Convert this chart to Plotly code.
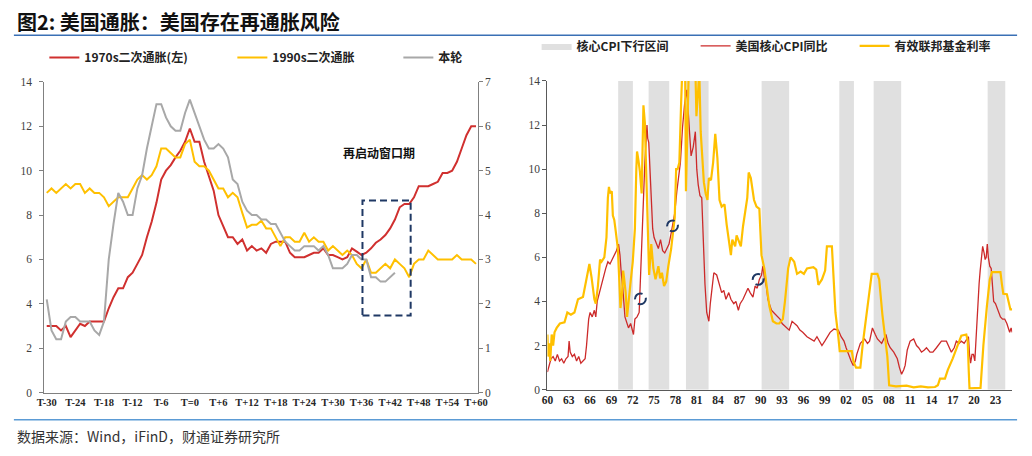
import plotly.graph_objects as go

W, H = 1032, 456
def px(x):
    return x / W
def py(y):
    return 1 - y / H

# ---------------- Left panel data (months relative to T) ----------------
months = list(range(-30, 61))
infl_1970s = [3.0, 3.0, 3.0, 2.8, 3.0, 2.5, 2.8, 3.1, 3.0, 3.2,
              3.2, 3.2, 3.2, 3.8, 4.3, 4.7, 4.7, 5.2, 5.4, 5.8,
              6.2, 7.0, 7.7, 8.55, 9.6, 10.0, 10.25, 10.6, 10.9, 11.3,
              11.9,
              11.3, 11.3, 10.4, 9.7, 9.1, 8.0, 7.5, 7.0, 7.0, 6.7,
              6.9, 6.4, 6.6, 6.4, 6.5, 6.3, 6.7, 6.8, 6.8, 6.8,
              6.3, 6.1, 6.1, 6.1, 6.2, 6.3, 6.3, 6.5, 6.2, 6.2,
              6.1, 6.0, 6.1, 6.5, 6.35, 6.2, 6.3, 6.5, 6.75, 6.9,
              7.1, 7.4, 7.8, 8.35, 8.5, 8.5, 8.8, 9.3, 9.3, 9.3,
              9.4, 9.5, 9.9, 9.9, 10.0, 10.4, 11.0, 11.6, 12.0, 12.0]
infl_1990s = [4.5, 4.6, 4.5, 4.6, 4.7, 4.6, 4.7, 4.7, 4.5, 4.6,
              4.5, 4.5, 4.4, 4.2, 4.3, 4.4, 4.4, 4.4, 4.6, 4.8,
              4.9, 4.8, 4.9, 5.1, 5.5, 5.5, 5.4, 5.3, 5.3, 5.6,
              5.7,
              5.2, 5.1, 5.1, 5.0, 4.8, 4.6, 4.6, 4.4, 4.5, 4.4,
              4.05, 3.72, 3.78, 3.78, 3.87, 3.7, 3.7, 3.5, 3.3, 3.5,
              3.5, 3.4, 3.4, 3.6, 3.4, 3.5, 3.4, 3.4, 3.2, 3.3,
              3.2, 3.1, 3.2, 3.1, 2.9, 2.8, 3.0, 2.7, 2.7, 2.8,
              2.9, 2.8, 3.0, 2.9, 2.8, 2.6, 2.9, 3.0, 3.0, 3.2,
              3.1, 3.0, 3.0, 3.0, 3.0, 3.1, 3.0, 3.0, 3.0, 2.9]
months_now = list(range(-30, 44))
infl_now = [2.1, 1.4, 1.2, 1.2, 1.6, 1.7, 1.7, 1.6, 1.6, 1.6,
            1.4, 1.3, 1.6, 3.0, 3.8, 4.5, 4.3, 4.0, 4.0, 4.6,
            4.9, 5.5, 6.0, 6.5, 6.5, 6.2, 6.0, 5.9, 5.9, 6.3,
            6.6,
            6.3, 6.0, 5.7, 5.5, 5.5, 5.6, 5.5, 5.3, 4.8, 4.7,
            4.3, 4.1, 4.0, 4.0, 3.9, 3.9, 3.8, 3.8, 3.6, 3.4,
            3.3, 3.2, 3.2, 3.3, 3.3, 3.3, 3.2, 3.3, 3.1, 2.8,
            2.8, 2.8, 2.9, 3.1, 3.1, 3.0, 3.0, 2.6, 2.6, 2.5,
            2.5, 2.6, 2.7]
month_tickvals = list(range(-30, 61, 6))
month_ticktext = ["T-30", "T-24", "T-18", "T-12", "T-6", "T=0", "T+6", "T+12",
                  "T+18", "T+24", "T+30", "T+36", "T+42", "T+48", "T+54", "T+60"]

# ---------------- Right panel data (year on chart axis) ----------------
cpi_year = [1960.0, 1960.2, 1960.5, 1960.8, 1961.1, 1961.4, 1961.7, 1962.0, 1962.3, 1962.6,
            1962.9, 1963.05, 1963.2, 1963.5, 1963.8, 1964.1, 1964.4, 1964.7, 1965.0, 1965.3,
            1965.5, 1965.8, 1966.0, 1966.3, 1966.6, 1966.8, 1967.0, 1967.3, 1967.6, 1967.9,
            1968.2, 1968.5, 1968.8, 1969.1, 1969.4, 1969.7, 1970.0, 1970.2, 1970.4, 1970.6,
            1970.9, 1971.1, 1971.4, 1971.7, 1971.9, 1972.1, 1972.3, 1972.6, 1972.9, 1973.05,
            1973.25, 1973.5, 1973.7, 1974.0, 1974.1, 1974.25, 1974.4, 1974.6, 1974.8, 1975.0,
            1975.3, 1975.6, 1975.9, 1976.2, 1976.5, 1976.8, 1977.1, 1977.4, 1977.7, 1977.9,
            1978.2, 1978.5, 1978.7, 1979.0, 1979.3, 1979.6, 1979.8, 1980.0, 1980.2, 1980.5,
            1980.8, 1981.0, 1981.2, 1981.45, 1981.7, 1981.85, 1982.0, 1982.15, 1982.4, 1982.7,
            1982.9, 1983.2, 1983.4, 1983.8, 1984.1, 1984.5, 1984.8, 1985.1, 1985.5, 1985.8,
            1986.2, 1986.5, 1986.85, 1987.1, 1987.5, 1987.8, 1988.2, 1988.5, 1988.9, 1989.2,
            1989.5, 1989.8, 1990.1, 1990.3, 1990.5, 1990.77, 1991.0, 1991.2, 1991.5, 1991.8,
            1992.1, 1992.4, 1992.7, 1993.0, 1993.3, 1993.6, 1994.0, 1994.4, 1994.7, 1995.1,
            1995.5, 1995.9, 1996.5, 1997.0, 1997.5, 1997.9, 1998.3, 1998.6, 1999.0, 1999.4,
            1999.75, 2000.3, 2000.9, 2001.3, 2001.7, 2002.0, 2002.4, 2002.7, 2003.0, 2003.3,
            2003.5, 2004.0, 2004.6, 2005.0, 2005.3, 2005.7, 2006.1, 2006.4, 2007.0, 2007.3,
            2007.6, 2007.9, 2008.2, 2008.7, 2009.2, 2009.5, 2009.8, 2010.1, 2010.3, 2010.6,
            2011.0, 2011.5, 2011.9, 2012.2, 2012.6, 2013.0, 2013.3, 2013.8, 2014.2, 2014.7,
            2015.1, 2015.4, 2016.1, 2016.5, 2016.8, 2017.2, 2017.5, 2017.9, 2018.2, 2018.6,
            2019.0, 2019.2, 2019.35, 2019.5, 2019.7, 2019.9, 2020.1, 2020.3, 2020.45, 2020.55,
            2020.7, 2020.85, 2021.0, 2021.2, 2021.4, 2021.55, 2021.7, 2021.85, 2022.0, 2022.2,
            2022.4, 2022.6, 2022.75, 2023.0, 2023.3, 2023.7, 2024.0, 2024.3, 2024.6, 2024.8,
            2025.0, 2025.2, 2025.35]
cpi_val = [0.8, 1.0, 1.4, 1.5, 1.3, 1.6, 1.3, 1.4, 1.2, 1.4,
           1.5, 2.2, 1.7, 1.5, 1.6, 1.3, 1.5, 1.2, 1.3, 1.4,
           2.0, 3.2, 3.5, 3.3, 3.6, 3.3, 4.0, 4.4, 4.7, 5.1,
           5.5, 5.8, 5.7, 5.9, 6.1, 6.3, 6.6, 6.1, 5.2, 4.6,
           3.3, 3.1, 2.8, 3.0, 2.8, 2.5, 3.2, 3.3, 3.5, 4.9,
           6.9, 8.9, 10.3, 12.0, 11.4, 11.2, 9.9, 8.3, 7.3, 6.9,
           6.6, 6.4, 6.8, 6.3, 6.2, 6.4, 6.6, 7.1, 7.6, 8.0,
           9.0, 9.8, 10.3, 11.9, 13.0, 13.6, 12.3, 11.6, 10.6, 11.0,
           11.7, 10.0, 9.3, 8.8, 8.7, 7.3, 6.0, 4.8, 3.5, 3.1,
           3.9, 4.9, 5.3, 5.2, 4.8, 4.4, 4.5, 4.1, 4.4, 4.1,
           3.9, 4.0, 3.6, 3.9, 4.1, 4.3, 4.6, 4.4, 4.2, 4.7,
           4.6, 5.0, 5.2, 5.6, 5.1, 4.7, 4.1, 3.9, 3.6, 3.5,
           3.4, 3.3, 3.2, 3.0, 2.9, 2.8, 2.7, 3.1, 3.0, 2.9,
           2.7, 2.6, 2.4, 2.3, 2.2, 2.4, 2.2, 2.0, 2.2, 2.4,
           2.6, 2.75, 2.7, 2.4, 2.2, 1.9, 1.5, 1.3, 1.1, 1.3,
           1.6, 2.1, 2.3, 2.1, 2.2, 2.8, 2.5, 2.3, 2.1, 2.3,
           2.5, 2.1, 1.9, 1.7, 1.4, 1.0, 0.7, 0.9, 1.1, 1.8,
           2.2, 2.3, 2.0, 1.9, 1.7, 1.8, 1.9, 1.7, 1.7, 1.9,
           2.1, 2.2, 2.2, 1.9, 1.7, 1.9, 2.2, 2.1, 2.2, 2.1,
           2.3, 2.4, 1.6, 1.2, 1.6, 1.6, 1.3, 2.5, 3.8, 4.4,
           4.8, 5.4, 6.0, 6.5, 6.2, 5.9, 6.0, 6.6, 6.0, 5.6,
           5.5, 4.8, 4.0, 3.9, 3.6, 3.3, 3.2, 3.2, 3.0, 2.8,
           2.6, 2.8, 2.6]

ffr_year = [1960.0, 1960.1, 1960.25, 1960.4, 1960.6, 1960.8, 1961.0, 1961.3, 1961.75, 1962.4,
            1962.8, 1963.3, 1963.8, 1964.3, 1965.0, 1965.4, 1965.9, 1966.2, 1966.6, 1966.8,
            1967.1, 1967.4, 1967.6, 1968.0, 1968.3, 1968.5, 1968.65, 1968.8, 1969.05, 1969.2,
            1969.4, 1969.6, 1969.9, 1970.1, 1970.27, 1970.5, 1970.65, 1970.8, 1971.0, 1971.2,
            1971.35, 1971.7, 1972.0, 1972.3, 1972.5, 1972.6, 1972.8, 1973.0, 1973.25, 1973.5,
            1973.7, 1973.85, 1974.0, 1974.15, 1974.3, 1974.6, 1974.9, 1975.2, 1975.6, 1975.85,
            1976.1, 1976.4, 1976.7, 1977.0, 1977.4, 1977.9, 1978.1, 1978.3, 1978.55, 1978.8,
            1979.0, 1979.3, 1979.48, 1979.6, 1979.9, 1980.2, 1980.5, 1980.8, 1980.95, 1981.2,
            1981.35, 1981.55, 1981.75, 1982.0, 1982.25, 1982.5, 1982.7, 1983.0, 1983.3, 1983.6,
            1983.9, 1984.2, 1984.5, 1984.9, 1985.2, 1985.5, 1985.8, 1986.0, 1986.4, 1986.6,
            1986.85, 1987.2, 1987.5, 1987.85, 1988.1, 1988.3, 1988.6, 1989.05, 1989.4, 1989.8,
            1990.1, 1990.5, 1990.9, 1991.2, 1991.7, 1992.2, 1992.6, 1993.1, 1993.4, 1993.85,
            1994.2, 1994.7, 1995.1, 1995.6, 1996.06, 1996.5, 1997.4, 1997.8, 1998.1, 1998.6,
            1999.05, 1999.3, 2000.0, 2000.2, 2000.5, 2000.9, 2001.1, 2002.8, 2003.05, 2003.4,
            2004.0, 2004.35, 2004.8, 2005.3, 2005.6, 2006.4, 2006.65, 2007.1, 2007.5, 2007.8,
            2008.05, 2009.0, 2010.5, 2011.5, 2012.5, 2013.5, 2014.5, 2014.9, 2015.1, 2015.2,
            2015.9, 2016.3, 2017.0, 2017.7, 2018.2, 2018.9, 2019.1, 2019.25, 2019.35, 2020.9,
            2021.3, 2021.8, 2022.2, 2022.5, 2023.7, 2023.9, 2024.1, 2024.6, 2024.8, 2025.1,
            2025.35]
ffr_val = [2.5, 1.5, 2.1, 1.3, 2.5, 2.0, 2.6, 2.8, 3.0, 3.05,
           3.5, 3.4, 3.5, 4.1, 4.2, 4.8, 5.7, 5.1, 4.1, 3.9,
           4.7, 5.9, 5.8, 6.0, 6.9, 8.7, 9.2, 8.9, 9.0, 7.9,
           7.7, 7.2, 6.4, 5.0, 3.7, 4.4, 5.4, 5.0, 4.4, 3.3,
           3.9, 4.9, 5.8, 7.3, 10.0, 10.8, 10.4, 9.9, 8.9, 12.9,
           12.1, 10.5, 8.5, 6.6, 5.2, 6.6, 5.5, 5.0, 5.6, 5.05,
           5.3, 4.7, 4.9, 5.6, 6.4, 7.8, 10.0, 10.0, 10.3, 13.0,
           14.5, 17.6, 9.0, 11.0, 18.9, 19.1, 19.1, 15.0, 12.4, 13.6,
           14.5, 11.7, 10.4, 9.4, 8.9, 8.6, 9.6, 9.5, 10.3, 11.6,
           10.5, 8.6, 8.3, 8.4, 7.5, 6.8, 6.1, 6.8, 6.5, 7.0,
           6.8, 6.5, 7.4, 8.1, 8.7, 9.85, 9.6, 8.6, 8.3, 8.2,
           6.1, 5.5, 4.6, 3.8, 3.1, 3.0, 3.0, 3.2, 4.0, 5.5,
           6.0, 5.8, 5.25, 5.35, 5.25, 5.5, 5.55, 5.45, 4.75, 5.0,
           5.4, 6.5, 6.5, 5.3, 3.5, 2.4, 1.75, 1.75, 1.25, 1.0,
           1.0, 2.1, 3.3, 4.4, 5.25, 5.25, 5.0, 3.4, 2.4, 1.5,
           0.2, 0.15, 0.18, 0.1, 0.15, 0.1, 0.12, 0.2, 0.4, 0.5,
           0.5, 0.9, 1.42, 2.0, 2.45, 2.5, 2.2, 0.8, 0.06, 0.08,
           2.0, 3.8, 5.0, 5.33, 5.33, 4.8, 4.35, 4.33, 4.0, 3.64,
           3.64]

shade_start = [1969.95, 1974.23, 1979.48, 1990.12, 2001.04, 2005.87, 2021.9]
shade_end = [1972.02, 1977.13, 1982.66, 1993.99, 2003.1, 2009.74, 2024.38]
year_tickvals = list(range(1960, 2024, 3))
year_ticktext = ["60", "63", "66", "69", "72", "75", "78", "81", "84", "87", "90",
                 "93", "96", "99", "02", "05", "08", "11", "14", "17", "20", "23"]
marker_points = [(1973.08, 4.12), (1977.59, 7.43), (1989.63, 5.0)]

# ---------------- styles ----------------
RED = "#d0302f"
YEL = "#ffc000"
GRY = "#a8a8a8"
NAVY = "#1f3864"
CJK = "Noto Sans CJK SC"
SERIF = "Liberation Serif"
AXC = "#808080"

fig = go.Figure()

# left panel
fig.add_trace(go.Scatter(x=months, y=infl_1970s, name="1970s二次通胀(左)", mode="lines",
                         line=dict(color=RED, width=2), xaxis="x", yaxis="y",
                         legend="legend", legendwidth=143))
fig.add_trace(go.Scatter(x=months, y=infl_1990s, name="1990s二次通胀", mode="lines",
                         line=dict(color=YEL, width=2), xaxis="x", yaxis="y2",
                         legend="legend", legendwidth=121))
fig.add_trace(go.Scatter(x=months_now, y=infl_now, name="本轮", mode="lines",
                         line=dict(color=GRY, width=2), xaxis="x", yaxis="y2",
                         legend="legend"))

# right panel: shading
sx, sy = [], []
for a, b in zip(shade_start, shade_end):
    sx += [a, b, b, a, a, None]
    sy += [0, 0, 14, 14, 0, None]
fig.add_trace(go.Scatter(x=sx, y=sy, name="核心CPI下行区间", mode="lines", fill="toself",
                         fillcolor="#e0e0e0", line=dict(width=0, color="#e0e0e0"),
                         xaxis="x2", yaxis="y3", legend="legend2", legendwidth=114,
                         hoverinfo="skip"))
fig.add_trace(go.Scatter(x=cpi_year, y=cpi_val, name="美国核心CPI同比", mode="lines",
                         line=dict(color="#cc2a2a", width=1.3), xaxis="x2", yaxis="y3",
                         legend="legend2", legendwidth=114))
fig.add_trace(go.Scatter(x=ffr_year, y=ffr_val, name="有效联邦基金利率", mode="lines",
                         line=dict(color=YEL, width=2.2), xaxis="x2", yaxis="y3",
                         legend="legend2"))

tickfont_y = dict(family=SERIF, size=11.5, color="#404040")
tickfont_x = dict(family=SERIF, size=10.5, color="#262626", weight="bold")

shapes = [
    # title rule and bottom rule
    dict(type="line", xref="paper", yref="paper", x0=px(6), x1=px(1027), y0=py(30), y1=py(30),
         line=dict(color="#3a70b5", width=1.5)),
    dict(type="line", xref="paper", yref="paper", x0=px(6), x1=px(1027), y0=py(425), y1=py(425),
         line=dict(color="#5b9bd5", width=1.5)),
    # re-start window box
    dict(type="rect", xref="x", yref="y", x0=36.2, x1=46.3, y0=3.47, y1=8.66,
         line=dict(color=NAVY, width=2, dash="7px,4px")),
]
for cx, cy in marker_points:
    shapes.append(dict(type="circle", xref="x2", yref="y3", x0=cx - 0.76, x1=cx + 0.76,
                       y0=cy - 0.245, y1=cy + 0.245,
                       line=dict(color=NAVY, width=2, dash="11px,5px")))

annotations = [
    dict(text="图2: 美国通胀：美国存在再通胀风险", xref="paper", yref="paper",
         x=px(7), y=py(16), xanchor="left", yanchor="middle", showarrow=False,
         font=dict(family=CJK, size=20, color="#111111", weight="bold")),
    dict(text="数据来源：Wind，iFinD，财通证券研究所", xref="paper", yref="paper",
         x=px(7), y=py(442), xanchor="left", yanchor="middle", showarrow=False,
         font=dict(family=CJK, size=14, color="#333333")),
    dict(text="再启动窗口期", xref="x", yref="y", x=39.7, y=10.8, showarrow=False,
         font=dict(family=CJK, size=12, color="#111111", weight="bold")),
]

legend_font = dict(family=CJK, size=12, color="#222222", weight="bold")

fig.update_layout(
    width=W, height=H,
    margin=dict(l=0, r=0, t=0, b=0),
    paper_bgcolor="white", plot_bgcolor="white",
    showlegend=True,
    xaxis=dict(domain=[px(37), px(478)], range=[-30.5, 60.35], tickvals=month_tickvals,
               ticktext=month_ticktext, tickfont=tickfont_x, showline=True, linecolor=AXC,
               linewidth=1, showgrid=False, zeroline=False, ticks="", anchor="y"),
    yaxis=dict(domain=[py(397), py(78)], range=[0, 14], dtick=2, tickfont=tickfont_y,
               showline=True, linecolor=AXC, linewidth=1, showgrid=False, zeroline=False,
               ticks="outside", ticklen=4, tickcolor=AXC, ticklabelstandoff=5, anchor="x"),
    yaxis2=dict(domain=[py(397), py(78)], range=[0, 7], dtick=1, tickfont=tickfont_y,
                showline=True, linecolor=AXC, linewidth=1, showgrid=False, zeroline=False,
                ticks="outside", ticklen=4, tickcolor=AXC, overlaying="y", side="right",
                anchor="x"),
    xaxis2=dict(domain=[px(549), px(1022)], range=[1960, 2025.35], tickvals=year_tickvals,
                ticktext=year_ticktext, tickfont=dict(family=SERIF, size=11.5, color="#262626",
                                                      weight="bold"),
                showline=True, linecolor="#595959", linewidth=1, showgrid=False,
                zeroline=False, ticks="", anchor="y3"),
    yaxis3=dict(domain=[py(394), py(77)], range=[0, 14], dtick=2, tickfont=tickfont_y,
                showline=True, linecolor="#595959", linewidth=1, showgrid=False,
                zeroline=False, ticks="outside", ticklen=4, tickcolor="#595959", anchor="x2"),
    legend=dict(orientation="h", x=px(37), xanchor="left", y=py(53), yanchor="middle",
                font=legend_font, bgcolor="rgba(0,0,0,0)", itemwidth=30,
                traceorder="normal"),
    legend2=dict(orientation="h", x=px(538), xanchor="left", y=py(41), yanchor="middle",
                 font=legend_font, bgcolor="rgba(0,0,0,0)", itemwidth=30,
                 traceorder="normal"),
    shapes=shapes,
    annotations=annotations,
)

fig.write_html("out.html")
